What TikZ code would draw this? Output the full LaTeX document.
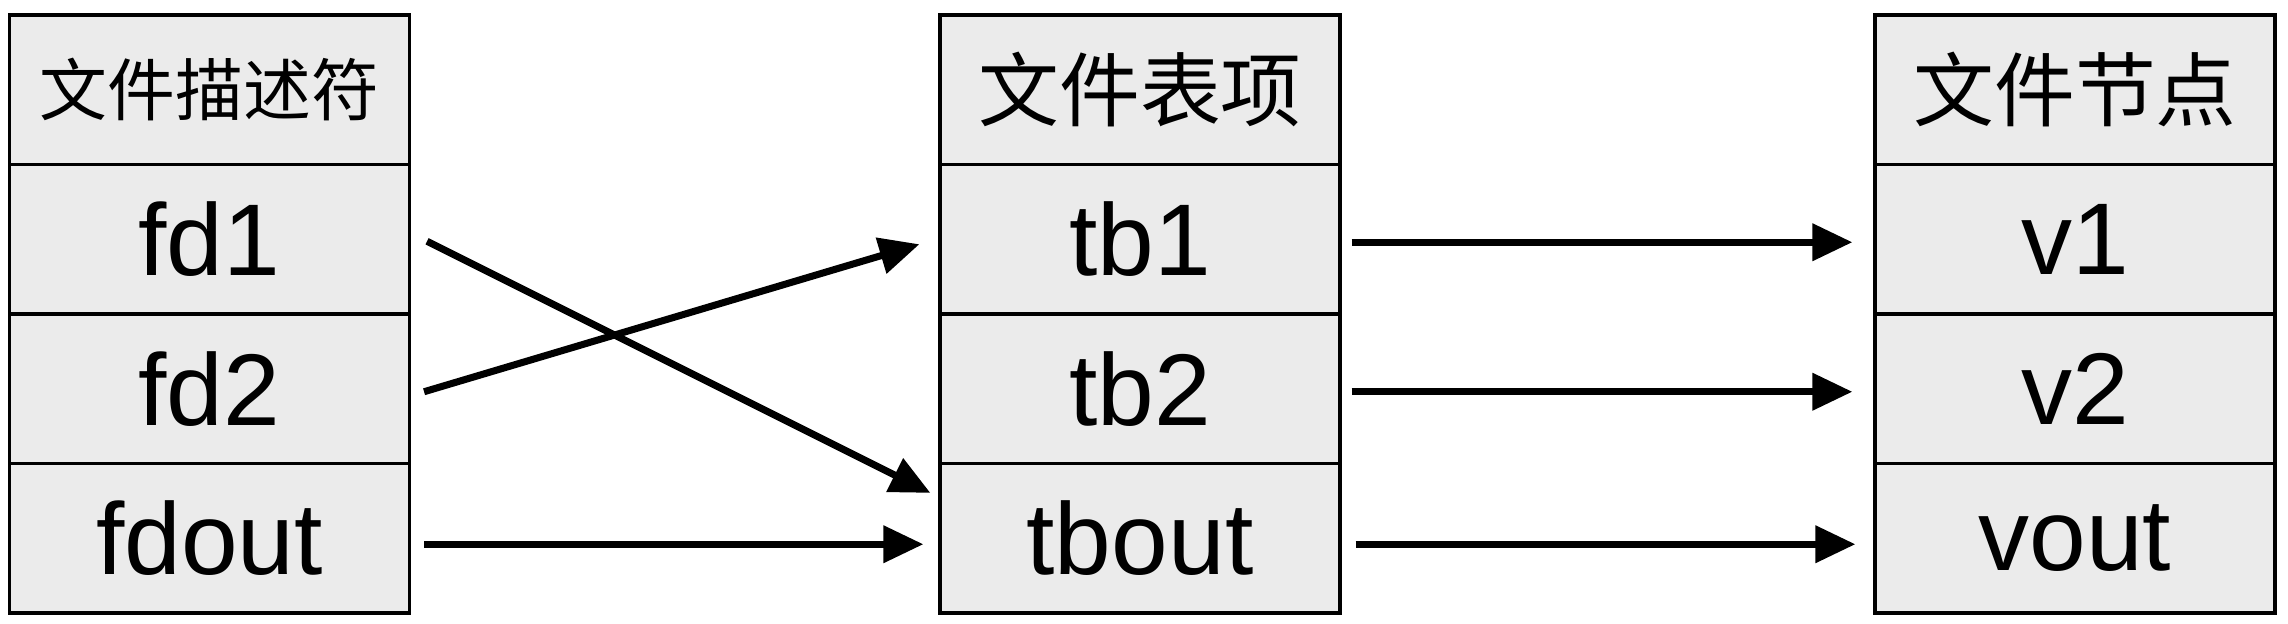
\documentclass[tikz,border=0pt]{standalone}
\usepackage{fontspec}
\setmainfont{Liberation Sans}
\newfontfamily\cjk{Noto Sans CJK SC}
\usetikzlibrary{arrows.meta}
\definecolor{cellgray}{HTML}{EBEBEB}

\begin{document}
\begin{tikzpicture}[>={Triangle[length=4mm,width=3.6mm]},
  cell/.style={draw=black,line width=0.9pt,fill=cellgray,minimum width=4cm,
               minimum height=1.495cm,inner sep=0pt,font=\fontsize{29}{29}\selectfont},
  head/.style={cell,font=\cjk\fontsize{23}{23}\selectfont},
  link/.style={->,line width=2pt}]
\useasboundingbox (0,0) rectangle (22.88,-6.24);
% descriptor column
\node[head,font=\cjk\fontsize{19.3}{19.3}\selectfont] (hfd) at (2.095,-0.8975) {文件描述符};
\node[cell] (fd1)   at (2.095,-2.3925) {fd1};
\node[cell] (fd2)   at (2.095,-3.8875) {fd2};
\node[cell] (fdout) at (2.095,-5.3825) {fdout};
% table column
\node[head] (htb)   at (11.40,-0.8975) {文件表项};
\node[cell] (tb1)   at (11.40,-2.3925) {tb1};
\node[cell] (tb2)   at (11.40,-3.8875) {tb2};
\node[cell] (tbout) at (11.40,-5.3825) {tbout};
% inode column
\node[head] (hv)    at (20.75,-0.8975) {文件节点};
\node[cell] (v1)    at (20.75,-2.3925) {v1};
\node[cell] (v2)    at (20.75,-3.8875) {v2};
\node[cell] (vout)  at (20.75,-5.3825) {vout};
% links
\draw[link] ([xshift=0.16cm,yshift=-0.02cm]fd1.east) -- ([xshift=-0.08cm,yshift=-0.31cm]tbout.north west);
\draw[link] ([xshift=0.13cm,yshift=-0.03cm]fd2.east) -- ([xshift=-0.19cm,yshift=-0.05cm]tb1.west);
\draw[link] ([xshift=0.13cm,yshift=-0.06cm]fdout.east) -- ([xshift=-0.15cm,yshift=-0.06cm]tbout.west);
\draw[link] ([xshift=0.10cm,yshift=-0.03cm]tb1.east) -- ([xshift=-0.21cm,yshift=-0.03cm]v1.west);
\draw[link] ([xshift=0.10cm,yshift=-0.03cm]tb2.east) -- ([xshift=-0.21cm,yshift=-0.03cm]v2.west);
\draw[link] ([xshift=0.14cm,yshift=-0.06cm]tbout.east) -- ([xshift=-0.18cm,yshift=-0.06cm]vout.west);
\end{tikzpicture}
\end{document}
